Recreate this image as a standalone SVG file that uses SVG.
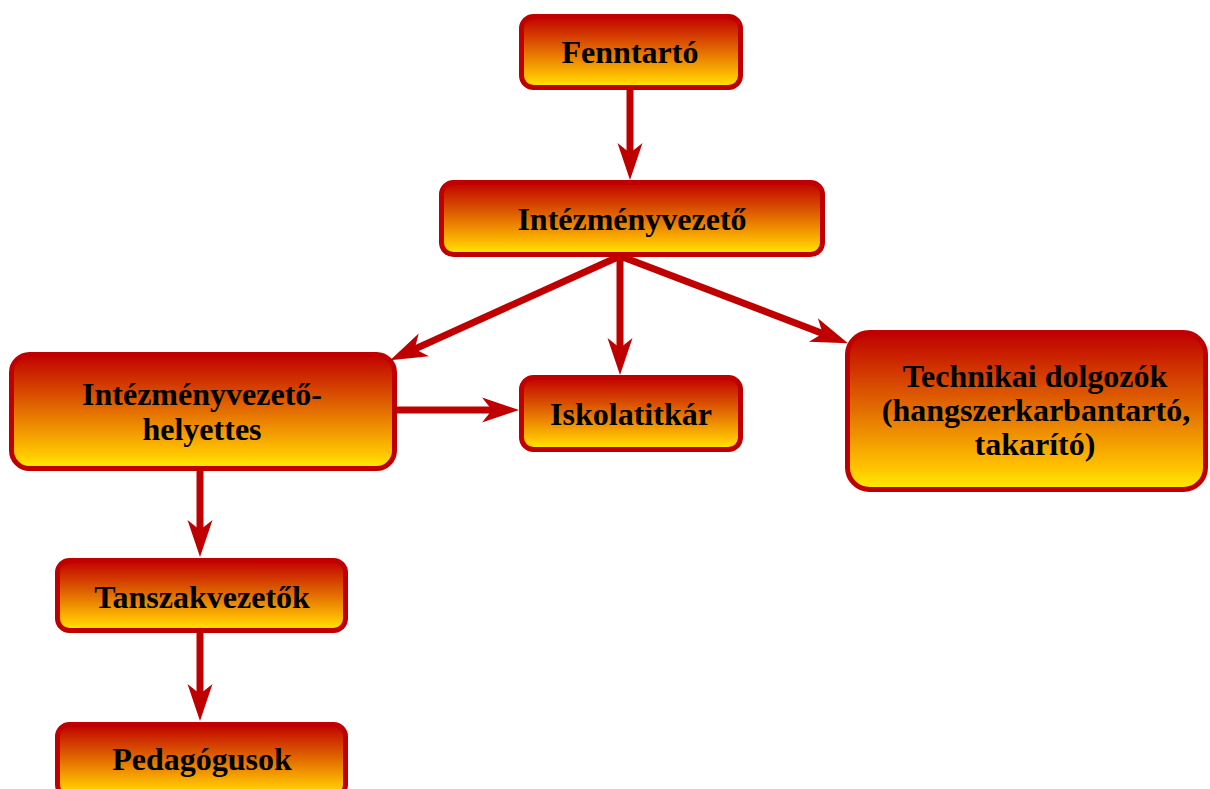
<svg xmlns="http://www.w3.org/2000/svg" width="1210" height="789" viewBox="0 0 1210 789">
<style>
.box{fill:url(#fire);stroke:#C00000;stroke-width:5}
.lbl{font-family:"Liberation Serif","Times New Roman",serif;font-weight:bold;font-size:32px;fill:#000;text-anchor:middle}
.con{stroke:#C00000;stroke-width:7;fill:none;marker-end:url(#arr)}
</style>
<defs>
<linearGradient id="fire" x1="0" y1="0" x2="0" y2="1">
<stop offset="0" stop-color="#C00000"/>
<stop offset="0.45" stop-color="#E06400"/>
<stop offset="0.85" stop-color="#FFC000"/>
<stop offset="1" stop-color="#FFEE00"/>
</linearGradient>
<marker id="arr" markerUnits="userSpaceOnUse" viewBox="-38 -13 39 26" refX="-25" refY="0" markerWidth="39" markerHeight="26" orient="auto" overflow="visible">
<path d="M0,0 L-37,-12.5 L-27,0 L-37,12.5 Z" fill="#C00000"/>
</marker>
</defs>
<g id="connectors">
<line class="con" x1="630" y1="88" x2="630" y2="155"/>
<line class="con" x1="620" y1="256" x2="620" y2="350"/>
<line class="con" x1="620" y1="256" x2="412.9" y2="349.9"/>
<line class="con" x1="620" y1="256" x2="824.6" y2="334.3"/>
<line class="con" x1="395" y1="410" x2="494" y2="410"/>
<line class="con" x1="200" y1="469" x2="200" y2="532"/>
<line class="con" x1="200" y1="631" x2="200" y2="696"/>
</g>
<g id="fenntarto">
<rect class="box" x="521.5" y="16.5" width="219" height="71" rx="12"/>
<text class="lbl" x="630" y="63">Fenntartó</text>
</g>
<g id="intezmenyvezeto">
<rect class="box" x="441.5" y="182.5" width="381" height="72" rx="12"/>
<text class="lbl" x="632" y="230">Intézményvezető</text>
</g>
<g id="helyettes">
<rect class="box" x="11.5" y="354.5" width="383" height="114" rx="18"/>
<text class="lbl" x="202" y="405">Intézményvezető-</text>
<text class="lbl" x="202" y="440">helyettes</text>
</g>
<g id="iskolatitkar">
<rect class="box" x="521.5" y="377.5" width="219" height="72" rx="12"/>
<text class="lbl" x="631" y="425">Iskolatitkár</text>
</g>
<g id="technikai">
<rect class="box" x="847.5" y="332.5" width="358" height="157" rx="22"/>
<text class="lbl" x="1035" y="387">Technikai dolgozók</text>
<text class="lbl" x="1036" y="421">(hangszerkarbantartó,</text>
<text class="lbl" x="1035" y="455">takarító)</text>
</g>
<g id="tanszakvezetok">
<rect class="box" x="57.5" y="560.5" width="288" height="70" rx="12"/>
<text class="lbl" x="202" y="608">Tanszakvezetők</text>
</g>
<g id="pedagogusok">
<rect class="box" x="57.5" y="724.5" width="288" height="72" rx="12"/>
<text class="lbl" x="202" y="770">Pedagógusok</text>
</g>
</svg>
